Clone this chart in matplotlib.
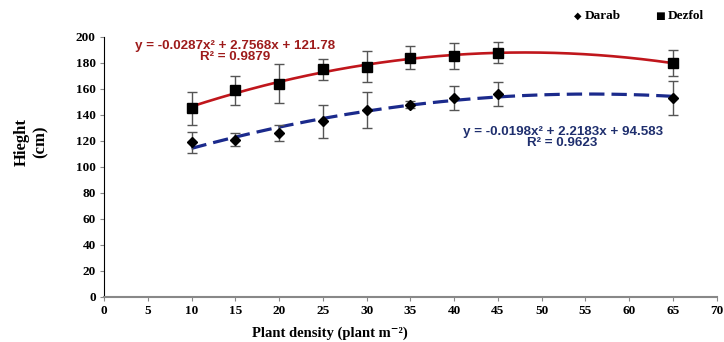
import numpy as np
import matplotlib
matplotlib.use("Agg")
import matplotlib.pyplot as plt

# plant density (plant m-2)
density = [10, 15, 20, 25, 30, 35, 40, 45, 65]

# height (cm) and error bars
dezfol = [145, 159, 164, 175, 177, 184, 185, 188, 180]
dezfol_err = [13, 11, 15, 8, 12, 9, 10, 8, 10]
darab = [119, 121, 126, 135, 144, 148, 153, 156, 153]
darab_err = [8, 5, 6, 13, 14, 3, 9, 9, 13]

dezfol_eq = "y = -0.0287x\u00b2 + 2.7568x + 121.78\nR\u00b2 = 0.9879"
darab_eq = "y = -0.0198x\u00b2 + 2.2183x + 94.583\nR\u00b2 = 0.9623"

red = "#c0161c"
red_txt = "#9e1b1b"
navy = "#1b2a8c"
navy_txt = "#1f2f6e"
serif = ["Liberation Serif", "DejaVu Serif"]

fig = plt.figure(figsize=(7.24, 3.42), dpi=100)
ax = fig.add_axes([0.1436, 0.1316, 0.8464, 0.7604])

# polynomial trend lines (2nd order) fitted to the data
xs = np.linspace(10, 65, 200)
p_dez = np.polyfit(density, dezfol, 2)
p_dar = np.polyfit(density, darab, 2)
ax.plot(xs, np.polyval(p_dez, xs), color=red, lw=1.9, zorder=2)
ln, = ax.plot(xs, np.polyval(p_dar, xs), color=navy, lw=2.3, zorder=2)
ln.set_dashes((4.8, 2.2))

ax.errorbar(density, dezfol, yerr=dezfol_err, fmt="s", color="black",
            ms=6.5, ecolor="#555555", elinewidth=1, capsize=3.5, capthick=1, zorder=3)
ax.errorbar(density, darab, yerr=darab_err, fmt="D", color="black",
            ms=4.8, ecolor="#555555", elinewidth=1, capsize=3.5, capthick=1, zorder=3)

ax.text(15.0, 188.5, dezfol_eq, color=red_txt, fontsize=9.6, fontweight="bold",
        ha="center", va="center", family="Liberation Sans", linespacing=0.9)
ax.text(52.4, 122.5, darab_eq, color=navy_txt, fontsize=9.6, fontweight="bold",
        ha="center", va="center", family="Liberation Sans", linespacing=0.9)

ax.set_xlim(0, 70)
ax.set_ylim(0, 200)
ax.set_xticks(range(0, 71, 5))
ax.set_yticks(range(0, 201, 20))
for s in ["top", "right"]:
    ax.spines[s].set_visible(False)
ax.spines["left"].set_color("black")
ax.spines["bottom"].set_color("#888888")
ax.spines["bottom"].set_linewidth(1.5)
ax.tick_params(direction="out", length=3, color="#888888", labelsize=9.5, pad=3)
for lab in ax.get_xticklabels() + ax.get_yticklabels():
    lab.set_family(serif)
    lab.set_fontweight("bold")

# axis titles
fig.text(0.456, 0.027, "Plant density (plant m\u207b\u00b2)", family=serif,
         fontweight="bold", fontsize=10.5, ha="center", va="center")
fig.text(0.043, 0.585, "Hieght\n(cm)", family=serif, fontweight="bold",
         fontsize=12, rotation=90, ha="center", va="center", linespacing=1.3)

# legend at top right
fig.text(0.7985, 0.953, "\u25c6", fontsize=7, ha="center", va="center")
fig.text(0.808, 0.953, "Darab", fontsize=9.5, family=serif, fontweight="bold",
         va="center")
fig.text(0.912, 0.953, "\u25a0", fontsize=7.5, ha="center", va="center")
fig.text(0.922, 0.953, "Dezfol", fontsize=9.5, family=serif, fontweight="bold",
         va="center")

fig.savefig("out.png", dpi=100)
